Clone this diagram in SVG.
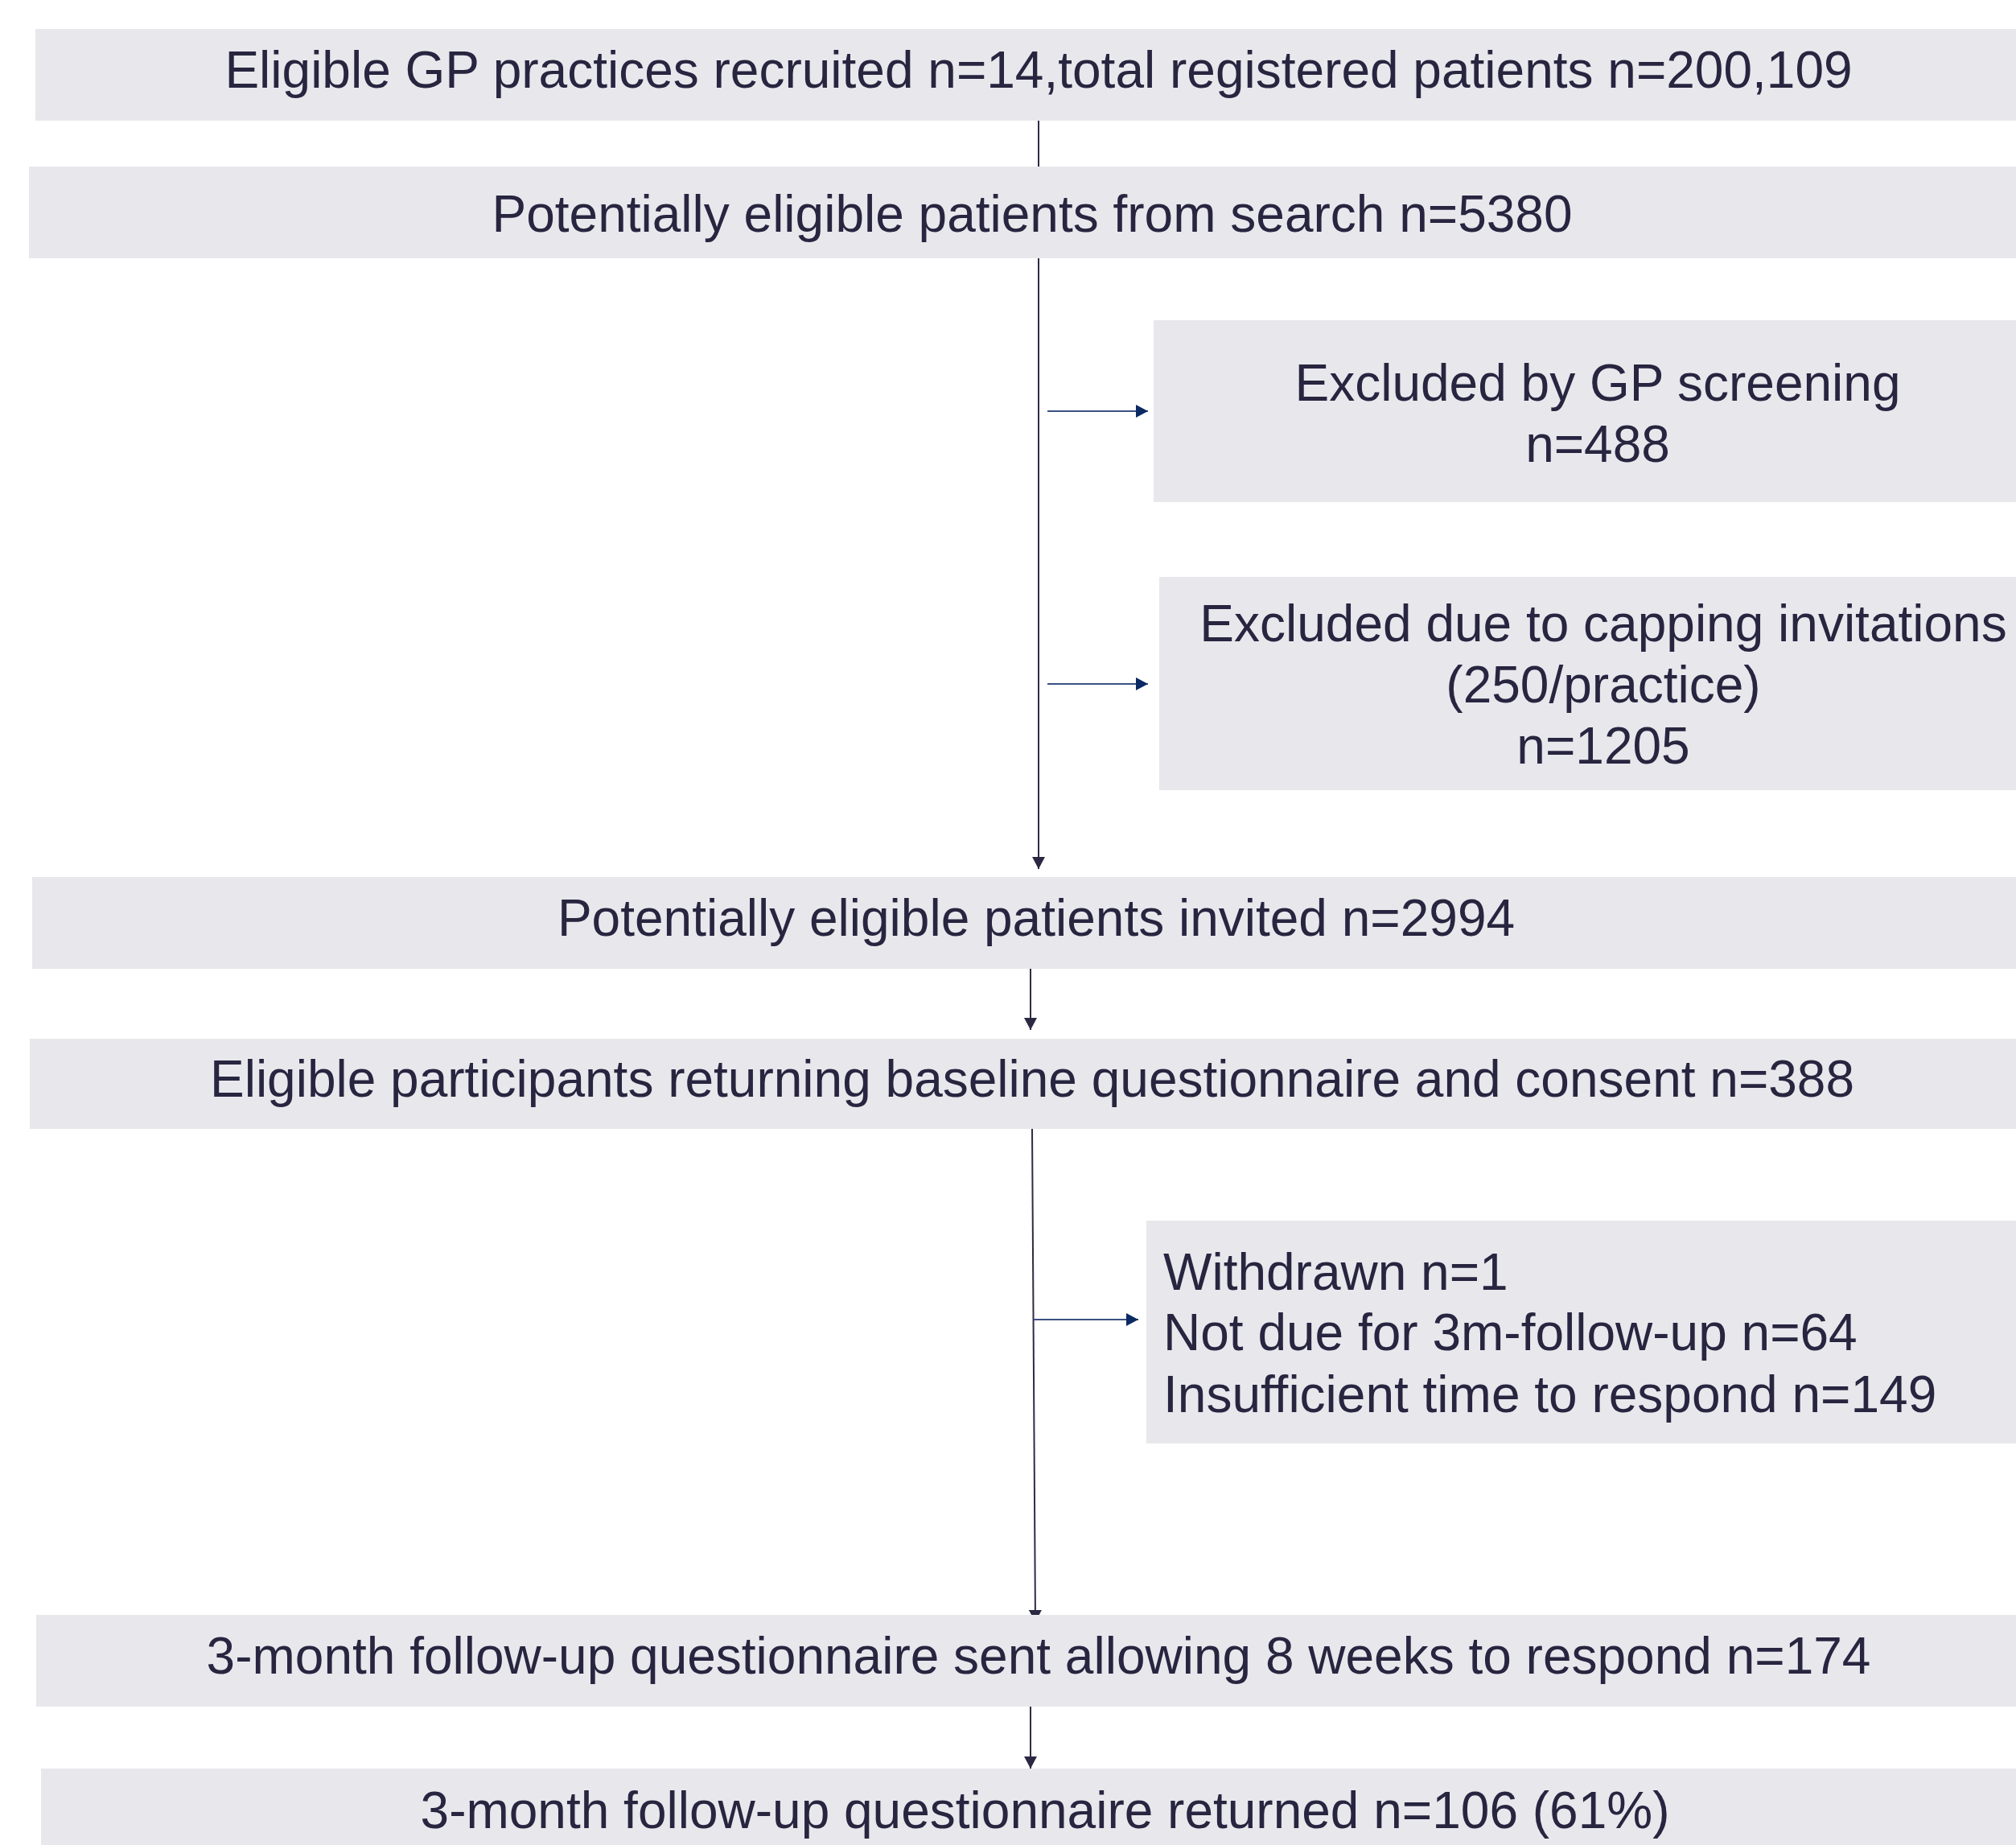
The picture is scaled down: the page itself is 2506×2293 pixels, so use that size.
<svg xmlns="http://www.w3.org/2000/svg" width="2506" height="2293" viewBox="0 0 2506 2293">
<style>
.box{fill:#e8e7ec}
.t{font-family:"Liberation Sans",Arial,sans-serif;font-size:64px;fill:#27253f}
.c{text-anchor:middle}
.v{stroke:#2e2c45;stroke-width:2;fill:none}
.h{stroke:#3b5182;stroke-width:2;fill:none}
</style>
<defs>
<marker id="av" markerUnits="userSpaceOnUse" markerWidth="16" markerHeight="16" viewBox="0 0 16 16" refX="15" refY="8" orient="auto">
<path d="M0,0 L15,8 L0,16 Z" fill="#2a2842"/>
</marker>
<marker id="ah" markerUnits="userSpaceOnUse" markerWidth="16" markerHeight="16" viewBox="0 0 16 16" refX="15" refY="8" orient="auto">
<path d="M0,0 L15,8 L0,16 Z" fill="#0b2a63"/>
</marker>
</defs>
<rect width="2506" height="2293" fill="#ffffff"/>
<g id="connectors">
<line class="v" x1="1291" y1="150" x2="1291" y2="207"/>
<line class="v" x1="1291" y1="321" x2="1291" y2="1080" marker-end="url(#av)"/>
<line class="h" x1="1302" y1="511" x2="1427" y2="511" marker-end="url(#ah)"/>
<line class="h" x1="1302" y1="850" x2="1427" y2="850" marker-end="url(#ah)"/>
<line class="v" x1="1281" y1="1203" x2="1281" y2="1280" marker-end="url(#av)"/>
<line class="v" x1="1283" y1="1403" x2="1287" y2="2016" marker-end="url(#av)"/>
<line class="h" x1="1285" y1="1640" x2="1415" y2="1640" marker-end="url(#ah)"/>
<line class="v" x1="1281" y1="2121" x2="1281" y2="2198" marker-end="url(#av)"/>
</g>
<g id="n1"><rect class="box" x="44" y="36" width="2462" height="114"/><text class="t c" x="1291" y="109">Eligible GP practices recruited n=14,total registered patients n=200,109</text></g>
<g id="n2"><rect class="box" x="36" y="207" width="2470" height="114"/><text class="t c" x="1283" y="288">Potentially eligible patients from search n=5380</text></g>
<g id="n3"><rect class="box" x="1434" y="398" width="1072" height="226"/><text class="t c" x="1986" y="498">Excluded by GP screening</text><text class="t c" x="1986" y="574">n=488</text></g>
<g id="n4"><rect class="box" x="1441" y="717" width="1065" height="265"/><text class="t c" x="1993" y="797">Excluded due to capping invitations</text><text class="t c" x="1993" y="873">(250/practice)</text><text class="t c" x="1993" y="949">n=1205</text></g>
<g id="n5"><rect class="box" x="40" y="1090" width="2466" height="114"/><text class="t c" x="1288" y="1163">Potentially eligible patients invited n=2994</text></g>
<g id="n6"><rect class="box" x="37" y="1291" width="2469" height="112"/><text class="t c" x="1283" y="1363">Eligible participants returning baseline questionnaire and consent n=388</text></g>
<g id="n7"><rect class="box" x="1425" y="1517" width="1081" height="277"/><text class="t" x="1446" y="1603">Withdrawn n=1</text><text class="t" x="1446" y="1678">Not due for 3m-follow-up n=64</text><text class="t" x="1446" y="1755">Insufficient time to respond n=149</text></g>
<g id="n8"><rect class="box" x="45" y="2007" width="2461" height="114"/><text class="t c" x="1291" y="2080">3-month follow-up questionnaire sent allowing 8 weeks to respond n=174</text></g>
<g id="n9"><rect class="box" x="51" y="2198" width="2455" height="95"/><text class="t c" x="1299" y="2272">3-month follow-up questionnaire returned n=106 (61%)</text></g>
</svg>
